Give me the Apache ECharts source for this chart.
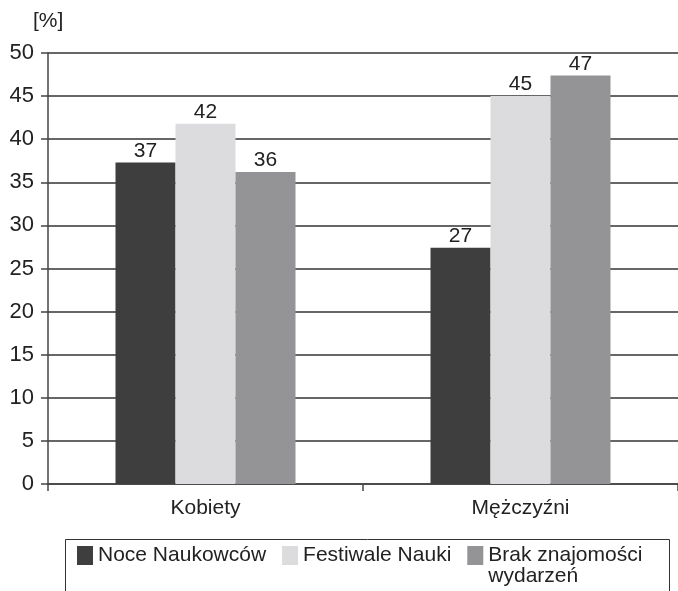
<!DOCTYPE html>
<html>
<head>
<meta charset="utf-8">
<script src="https://cdn.jsdelivr.net/npm/echarts@6/dist/echarts.min.js"></script>
<style>
  html, body { margin: 0; padding: 0; background: #fff; }
  #chart { width: 678px; height: 591px; }
</style>
</head>
<body>
<div id="chart"></div>
<script>
// dane
const categories = ["Kobiety", "Mężczyźni"];
const seriesNames = ["Noce Naukowców", "Festiwale Nauki", "Brak znajomości\nwydarzeń"];
const nocesNaukowcow = [37.3, 27.4];
const festiwaleNauki = [41.8, 45.0];
const brakZnajomosci = [36.2, 47.4];
const yTicks = [0, 5, 10, 15, 20, 25, 30, 35, 40, 45, 50];

const colors = ["#3e3e3f", "#dcdcde", "#949497"];
const font = "Liberation Sans, Arial, sans-serif";

const chart = echarts.init(document.getElementById("chart"));

const barSeries = (name, data, color) => ({
  name: name,
  type: "bar",
  data: data,
  barWidth: 60,
  barGap: "0%",
  itemStyle: { color: color },
  label: {
    show: true,
    position: "top",
    distance: 1,
    color: "#222",
    fontSize: 21,
    fontFamily: font,
    formatter: p => Math.round(p.value)
  }
});

const option = {
  backgroundColor: "#fff",
  animation: false,
  textStyle: { fontFamily: font },
  grid: { left: 48, width: 634, top: 53, bottom: 107 },
  graphic: [
    {
      type: "text",
      left: 33,
      top: 11,
      style: { text: "[%]", fontSize: 21, fontFamily: font, fill: "#222" }
    },
    {
      // ramka legendy
      type: "rect",
      left: 63,
      top: 537,
      shape: { width: 604, height: 80 },
      style: { fill: "none", stroke: "#333", lineWidth: 1 },
      z: 0
    }
  ],
  legend: {
    left: 77,
    top: 524,
    orient: "horizontal",
    itemWidth: 16,
    itemHeight: 19,
    itemGap: 16,
    padding: 0,
    icon: "rect",
    textStyle: { fontSize: 21, color: "#222", fontFamily: font, lineHeight: 21 },
    // pusta linia na początku, żeby pierwszy wiersz był na wysokości kwadratu
    formatter: name => (name.indexOf("\n") >= 0 ? " \n" + name : name),
    data: seriesNames
  },
  xAxis: {
    type: "category",
    data: categories,
    axisLine: { lineStyle: { color: "#444", width: 1.5 } },
    axisTick: { show: true, length: 7, lineStyle: { color: "#444", width: 1.5 } },
    axisLabel: { fontSize: 21, color: "#222", margin: 14, fontFamily: font }
  },
  yAxis: {
    type: "value",
    min: yTicks[0],
    max: yTicks[yTicks.length - 1],
    interval: 5,
    axisLine: { show: true, lineStyle: { color: "#444", width: 1.5 } },
    axisTick: { show: true, length: 7, lineStyle: { color: "#444", width: 1.5 } },
    axisLabel: { fontSize: 22, color: "#222", margin: 14, fontFamily: font },
    splitLine: { show: true, lineStyle: { color: "#333", width: 1.5 } }
  },
  series: [
    barSeries(seriesNames[0], nocesNaukowcow, colors[0]),
    barSeries(seriesNames[1], festiwaleNauki, colors[1]),
    barSeries(seriesNames[2], brakZnajomosci, colors[2])
  ]
};

chart.setOption(option);
</script>
</body>
</html>
